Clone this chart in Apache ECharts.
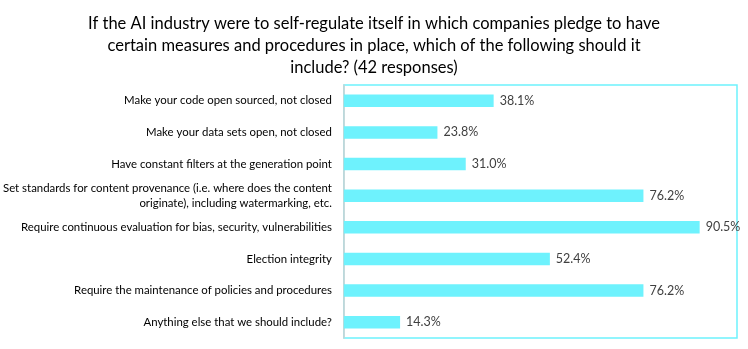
<!DOCTYPE html>
<html><head><meta charset="utf-8">
<script src="https://cdn.jsdelivr.net/npm/echarts@6/dist/echarts.min.js"></script>
<style>html,body{margin:0;padding:0;background:#fff}#c{width:748px;height:349px}</style>
</head><body><div id="c"></div>
<script>
const titleText = "If the AI industry were to self-regulate itself in which companies pledge to have\ncertain measures and procedures in place, which of the following should it\ninclude? (42 responses)";
const categories = [
  "Make your code open sourced, not closed",
  "Make your data sets open, not closed",
  "Have constant filters at the generation point",
  "Set standards for content provenance (i.e. where does the content\noriginate), including watermarking, etc.",
  "Require continuous evaluation for bias, security, vulnerabilities",
  "Election integrity",
  "Require the maintenance of policies and procedures",
  "Anything else that we should include?"
];
const values = [38.1, 23.8, 31.0, 76.2, 90.5, 52.4, 76.2, 14.3];

const chart = echarts.init(document.getElementById('c'), null, {renderer: 'canvas'});
chart.setOption({
  animation: false,
  title: {
    text: titleText,
    left: 'center',
    top: 8,
    textStyle: {fontFamily: 'Lato', fontSize: 16.5, fontWeight: 'normal', color: '#000', lineHeight: 22}
  },
  grid: {left: 343, right: 11, top: 85, bottom: 11, show: true, borderColor: '#6EF2FD', borderWidth: 1.5, containLabel: false},
  xAxis: {type: 'value', min: 0, max: 100, show: false, splitLine: {show: false}},
  yAxis: {
    type: 'category', data: categories, inverse: true,
    axisLine: {show: true, lineStyle: {color: '#D0D0D0', width: 1.5}},
    axisTick: {show: false},
    axisLabel: {fontFamily: 'Lato', fontSize: 11.4, color: '#000', margin: 12, lineHeight: 15, align: 'right'}
  },
  series: [{
    type: 'bar', data: values, barWidth: 12.5,
    itemStyle: {color: '#6EF2FD'},
    label: {show: true, position: 'right', distance: 6, formatter: p => p.value.toFixed(1) + '%',
      fontFamily: 'Lato', fontSize: 12.5, color: '#404040'}
  }]
});
</script></body></html>
